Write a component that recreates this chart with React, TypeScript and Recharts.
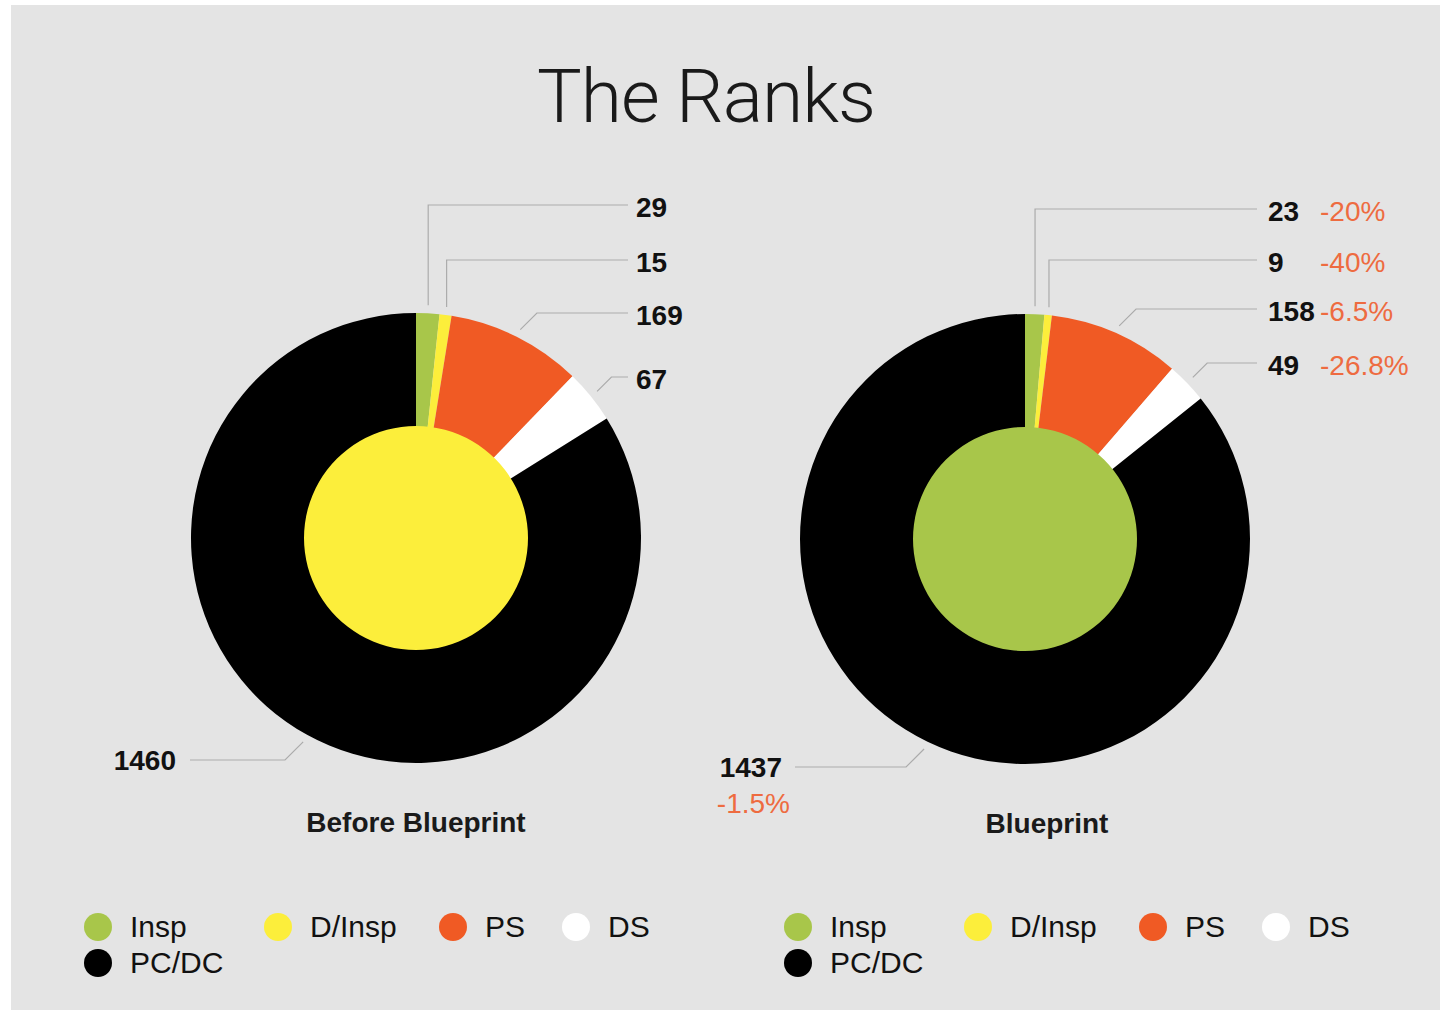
import React from 'react'
import { PieChart, Pie, Cell, Legend } from 'recharts'

const categories = ['Insp', 'D/Insp', 'PS', 'DS', 'PC/DC']
const beforeCounts = [29, 15, 169, 67, 1460]
const blueprintCounts = [23, 9, 158, 49, 1437]
const blueprintChange = ['-20%', '-40%', '-6.5%', '-26.8%', '-1.5%']
const sliceColors = ['#a8c64a', '#fcee3b', '#f05a24', '#ffffff', '#000000']

const beforeData = categories.map((name, i) => ({ name, value: beforeCounts[i] }))
const blueprintData = categories.map((name, i) => ({
  name,
  value: blueprintCounts[i],
  change: blueprintChange[i],
}))

const RAD = Math.PI / 180
const FONT = '"Liberation Sans", Arial, Helvetica, sans-serif'
const LINE = '#ababab'
const CHANGE = '#ee6b40'

type Row = { dy: number; mode: 'up' | 'elbow' | 'left' }

// label rows, offsets from the pie centre
const beforeRows: Row[] = [
  { dy: -333, mode: 'up' },
  { dy: -278, mode: 'up' },
  { dy: -225, mode: 'elbow' },
  { dy: -161, mode: 'elbow' },
  { dy: 222, mode: 'left' },
]
const blueprintRows: Row[] = [
  { dy: -330, mode: 'up' },
  { dy: -279, mode: 'up' },
  { dy: -230, mode: 'elbow' },
  { dy: -176, mode: 'elbow' },
  { dy: 228, mode: 'left' },
]

type Geo = { lineEnd: number; textX: number; pctX: number; leftLineEnd: number; leftText: number }

const makeLabel = (rows: Row[], geo: Geo) => (props: any) => {
  const { cx, cy, midAngle, outerRadius, index, value } = props
  const change = props.change ?? props.payload?.change
  const row = rows[index]
  const a = -midAngle * RAD
  const x1 = cx + (outerRadius + 8) * Math.cos(a)
  const y1 = cy + (outerRadius + 8) * Math.sin(a)
  const y2 = cy + row.dy
  const numStyle = { fontFamily: FONT, fontSize: 28, fontWeight: 700, fill: '#111' }
  const pctStyle = { fontFamily: FONT, fontSize: 28, fill: CHANGE }

  if (row.mode === 'left') {
    const x2 = x1 - (y2 - y1)
    const xEnd = cx - geo.leftLineEnd
    return (
      <g>
        <path d={`M${x1},${y1}L${x2},${y2}L${xEnd},${y2}`} stroke={LINE} strokeWidth={1.2} fill="none" />
        <text x={cx - geo.leftText} y={y2} textAnchor="end" dominantBaseline="central" style={numStyle}>
          {value}
        </text>
        {change && (
          <text x={cx - geo.leftText + 8} y={y2 + 36} textAnchor="end" dominantBaseline="central" style={pctStyle}>
            {change}
          </text>
        )}
      </g>
    )
  }

  const x2 = row.mode === 'up' ? x1 : x1 + (y1 - y2)
  const xEnd = cx + geo.lineEnd
  return (
    <g>
      <path d={`M${x1},${y1}L${x2},${y2}L${xEnd},${y2}`} stroke={LINE} strokeWidth={1.2} fill="none" />
      <text x={cx + geo.textX} y={y2 + 2} dominantBaseline="central" style={numStyle}>
        {value}
      </text>
      {change && (
        <text x={cx + geo.pctX} y={y2 + 2} dominantBaseline="central" style={pctStyle}>
          {change}
        </text>
      )}
    </g>
  )
}

const legendCols = [180, 175, 123, 120, 180]

function RankLegend({ payload }: { payload?: any[] }) {
  // keep the category order (recharts sorts legend items by name)
  const names = (payload ?? []).map(p => p.value)
  const list = categories.filter(c => names.length === 0 || names.includes(c))
  return (
    <div style={{ display: 'flex', flexWrap: 'wrap', width: 600, fontFamily: FONT }}>
      {list.map((name: string, i: number) => (
        <div key={name} style={{ width: legendCols[i], height: 36, display: 'flex', alignItems: 'center' }}>
          <span
            style={{
              width: 28,
              height: 28,
              flexShrink: 0,
              borderRadius: '50%',
              background: sliceColors[categories.indexOf(name)],
              display: 'inline-block',
              marginRight: 18,
            }}
          />
          <span style={{ fontSize: 30, color: '#111', whiteSpace: 'nowrap' }}>{name}</span>
        </div>
      ))}
    </div>
  )
}

function RankDonut({
  data,
  width,
  cx,
  cy,
  core,
  rows,
  geo,
}: {
  data: any[]
  width: number
  cx: number
  cy: number
  core: string
  rows: Row[]
  geo: Geo
}) {
  return (
    <PieChart width={width} height={1013} margin={{ top: 0, right: 0, bottom: 0, left: 0 }}>
      <Pie
        data={data}
        dataKey="value"
        nameKey="name"
        cx={cx}
        cy={cy}
        innerRadius={0}
        outerRadius={225}
        startAngle={90}
        endAngle={-270}
        stroke="none"
        label={makeLabel(rows, geo)}
        labelLine={false}
        isAnimationActive={false}
      >
        {data.map((d, i) => (
          <Cell key={d.name} fill={sliceColors[i]} />
        ))}
      </Pie>
      <Pie
        data={[{ name: 'core', value: 1 }]}
        dataKey="value"
        cx={cx}
        cy={cy}
        outerRadius={112}
        fill={core}
        stroke="none"
        legendType="none"
        isAnimationActive={false}
      />
      <Legend
        verticalAlign="bottom"
        align="left"
        layout="horizontal"
        wrapperStyle={{ left: 84, top: 909, bottom: 'auto', width: 620 }}
        content={<RankLegend />}
      />
    </PieChart>
  )
}

export default function App() {
  return (
    <div style={{ position: 'relative', width: 1440, height: 1013, background: '#fff', overflow: 'hidden' }}>
      <style>{'body{margin:0;}'}</style>
      <div style={{ position: 'absolute', left: 11, top: 5, width: 1429, height: 1005, background: '#e4e4e4' }} />
      <div
        style={{
          position: 'absolute',
          left: 406,
          width: 600,
          top: 59,
          textAlign: 'center',
          fontFamily: 'Roboto, "Liberation Sans", sans-serif',
          fontWeight: 300,
          fontSize: 75,
          lineHeight: '75px',
          color: '#1a1a1a',
          letterSpacing: -1,
        }}
      >
        The Ranks
      </div>
      <div style={{ position: 'absolute', left: 0, top: 0 }}>
        <RankDonut
          data={beforeData}
          width={700}
          cx={416}
          cy={538}
          core="#fcee3b"
          rows={beforeRows}
          geo={{ lineEnd: 212, textX: 220, pctX: 0, leftLineEnd: 226, leftText: 240 }}
        />
      </div>
      <div style={{ position: 'absolute', left: 700, top: 0 }}>
        <RankDonut
          data={blueprintData}
          width={740}
          cx={325}
          cy={539}
          core="#a8c64a"
          rows={blueprintRows}
          geo={{ lineEnd: 232, textX: 243, pctX: 295, leftLineEnd: 230, leftText: 243 }}
        />
      </div>
      <div
        style={{
          position: 'absolute',
          left: 216,
          width: 400,
          top: 807,
          textAlign: 'center',
          fontFamily: FONT,
          fontWeight: 700,
          fontSize: 28,
          lineHeight: '32px',
          color: '#1a1a1a',
        }}
      >
        Before Blueprint
      </div>
      <div
        style={{
          position: 'absolute',
          left: 847,
          width: 400,
          top: 808,
          textAlign: 'center',
          fontFamily: FONT,
          fontWeight: 700,
          fontSize: 28,
          lineHeight: '32px',
          color: '#1a1a1a',
        }}
      >
        Blueprint
      </div>
    </div>
  )
}
